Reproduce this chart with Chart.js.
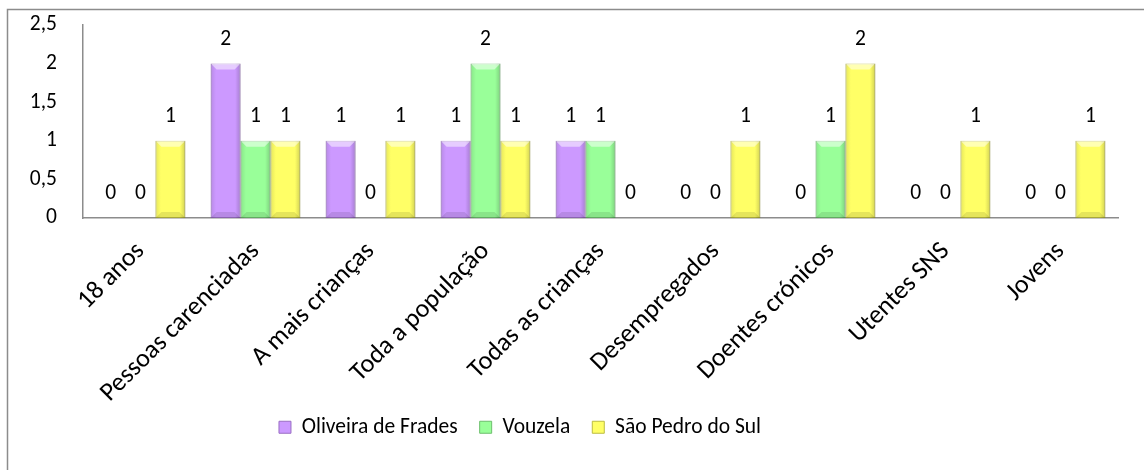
<!DOCTYPE html>
<html>
<head>
<meta charset="utf-8">
<script src="https://cdn.jsdelivr.net/npm/chart.js@4/dist/chart.umd.min.js"></script>
<style>
    html, body { margin: 0; padding: 0; background: #fff; }
    #wrap { position: relative; width: 1144px; height: 470px; }
</style>
</head>
<body>
<div id="wrap"><canvas id="grafico"></canvas></div>
<script>
// Datos del gráfico
const categorias = ['18 anos', 'Pessoas carenciadas', 'A mais crianças', 'Toda a população',
    'Todas as crianças', 'Desempregados', 'Doentes crónicos', 'Utentes SNS', 'Jovens'];
const oliveiraFrades = [0, 2, 1, 1, 1, 0, 0, 0, 0];
const vouzela = [0, 1, 0, 2, 1, 0, 1, 0, 0];
const saoPedroSul = [1, 1, 1, 1, 0, 1, 2, 1, 1];
const ticksY = [0, 0.5, 1, 1.5, 2, 2.5];

const FONTE = 'Carlito, Calibri, Lato, sans-serif';
const TAM = 21.5;
const TAM_X = 26;

// Moldura exterior do gráfico
const moldura = {
    id: 'moldura',
    beforeDraw(chart) {
        const ctx = chart.ctx;
        ctx.save();
        ctx.fillStyle = '#fff';
        ctx.fillRect(0, 0, chart.width, chart.height);
        ctx.strokeStyle = '#8c8c8c';
        ctx.lineWidth = 1.5;
        ctx.strokeRect(7.5, 9.5, chart.width + 20, chart.height + 20);
        ctx.restore();
    }
};

// Efeito de bisel nas barras + rótulos de valor
const biselERotulos = {
    id: 'biselERotulos',
    afterDatasetsDraw(chart) {
        const ctx = chart.ctx;
        ctx.save();
        chart.data.datasets.forEach((ds, i) => {
            chart.getDatasetMeta(i).data.forEach((bar) => {
                const l = bar.x - bar.width / 2;
                const r = bar.x + bar.width / 2;
                const t = bar.y;
                const b = bar.base;
                if (b - t < 2) return;
                const e = 6;
                const g = ctx.createLinearGradient(l, 0, r, 0);
                g.addColorStop(0, 'rgba(0,0,0,0.10)');
                g.addColorStop(0.18, 'rgba(0,0,0,0)');
                g.addColorStop(0.82, 'rgba(0,0,0,0)');
                g.addColorStop(1, 'rgba(0,0,0,0.18)');
                ctx.fillStyle = g;
                ctx.fillRect(l, t, r - l, b - t);
                // topo claro
                ctx.fillStyle = 'rgba(255,255,255,0.5)';
                ctx.beginPath();
                ctx.moveTo(l, t);
                ctx.lineTo(r, t);
                ctx.lineTo(r - e, t + e);
                ctx.lineTo(l + e, t + e);
                ctx.closePath();
                ctx.fill();
                // base escura
                ctx.fillStyle = 'rgba(0,0,0,0.10)';
                ctx.beginPath();
                ctx.moveTo(l, b);
                ctx.lineTo(r, b);
                ctx.lineTo(r - e, b - e);
                ctx.lineTo(l + e, b - e);
                ctx.closePath();
                ctx.fill();
            });
        });
        ctx.fillStyle = '#000';
        ctx.font = TAM + 'px ' + FONTE;
        ctx.textAlign = 'center';
        ctx.textBaseline = 'middle';
        chart.data.datasets.forEach((ds, i) => {
            chart.getDatasetMeta(i).data.forEach((bar, j) => {
                ctx.fillText(String(ds.data[j]).replace('.', ','), bar.x, bar.y - 24);
            });
        });
        ctx.restore();
    }
};

// Deslocar a legenda um pouco para a esquerda, como no original
const legendaDesloc = {
    id: 'legendaDesloc',
    afterLayout(chart) {
        chart.legend.left -= 44;
        chart.legend.right -= 44;
    }
};

const serie = (label, data, cor, borda) => ({
    label: label,
    data: data,
    backgroundColor: cor,
    borderColor: borda,
    borderWidth: 1,
    borderSkipped: false,
    categoryPercentage: 0.78,
    barPercentage: 1.0
});

new Chart(document.getElementById('grafico'), {
    type: 'bar',
    data: {
        labels: categorias,
        datasets: [
            serie('Oliveira de Frades', oliveiraFrades, '#cc99ff', '#9a6fc4'),
            serie('Vouzela', vouzela, '#99ff99', '#6cbf6c'),
            serie('São Pedro do Sul', saoPedroSul, '#ffff66', '#bcbc40')
        ]
    },
    options: {
        responsive: true,
        maintainAspectRatio: false,
        animation: false,
        layout: { padding: { left: 10, top: 25, right: 26, bottom: 22 } },
        plugins: {
            legend: {
                position: 'bottom',
                labels: {
                    boxWidth: 12,
                    boxHeight: 12,
                    padding: 22,
                    color: '#000',
                    font: { family: FONTE, size: TAM }
                }
            },
            tooltip: { enabled: false }
        },
        scales: {
            x: {
                afterFit(scale) {
                    scale.height -= 32;
                    // não cortar os rótulos rodados
                    scale._computeLabelArea = () => undefined;
                },
                grid: { display: false, drawTicks: false },
                border: { display: true, color: '#8c8c8c', width: 1.5 },
                ticks: {
                    color: '#000',
                    font: { family: FONTE, size: TAM_X },
                    minRotation: 45,
                    maxRotation: 45,
                    padding: 18,
                    autoSkip: false
                }
            },
            y: {
                min: 0,
                max: 2.5,
                afterBuildTicks(scale) {
                    scale.ticks = ticksY.map(v => ({ value: v }));
                },
                afterFit(scale) {
                    scale.width = 73;
                    scale.paddingTop = 0;
                    scale.paddingBottom = 0;
                },
                grid: { display: false, drawTicks: false },
                border: { display: true, color: '#8c8c8c', width: 1.5 },
                ticks: {
                    color: '#000',
                    font: { family: FONTE, size: TAM },
                    padding: 26,
                    callback: (v) => String(v).replace('.', ',')
                }
            }
        }
    },
    plugins: [moldura, biselERotulos, legendaDesloc]
});
</script>
</body>
</html>
